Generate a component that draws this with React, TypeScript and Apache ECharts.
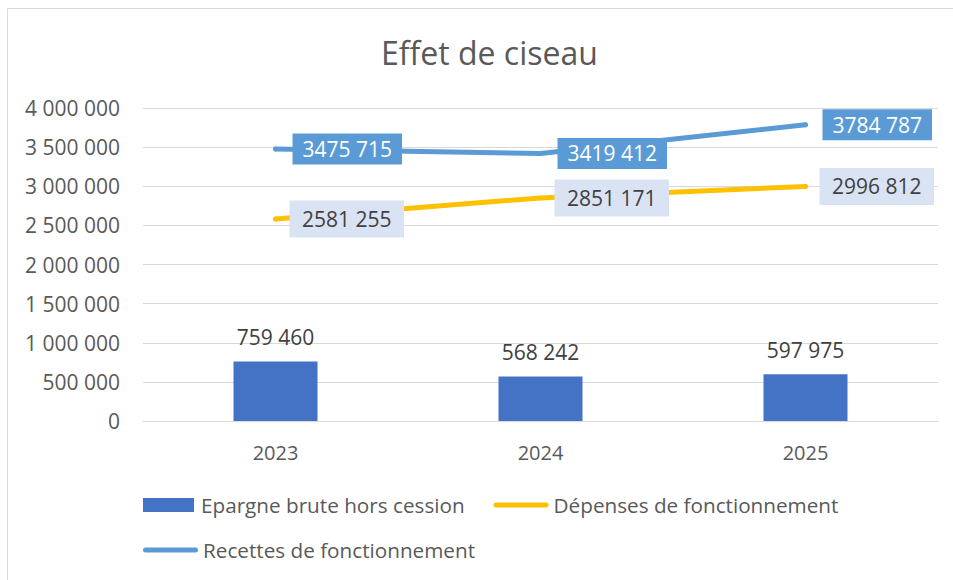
import React, { useEffect, useRef } from 'react';
import * as echarts from 'echarts';

const categories = ['2023', '2024', '2025'];
const epargne = [759460, 568242, 597975];
const depenses = [2581255, 2851171, 2996812];
const recettes = [3475715, 3419412, 3784787];
const yMin = 0;
const yMax = 4000000;
const yStep = 500000;

const seriesNames = ['Epargne brute hors cession', 'Dépenses de fonctionnement', 'Recettes de fonctionnement'];

const FONT = '"Open Sans", "Noto Sans", sans-serif';

function fmtGroup(v: number): string {
  return String(v).replace(/\B(?=(\d{3})+(?!\d))/g, ' ');
}
function fmtLast(v: number): string {
  const s = String(Math.round(v));
  return s.length > 3 ? s.slice(0, -3) + ' ' + s.slice(-3) : s;
}

const linePath = 'path://M2.5,0L52.5,0A2.5,2.5,0,0,1,52.5,5L2.5,5A2.5,2.5,0,0,1,2.5,0Z';
const rectPath = 'path://M0,0L51,0L51,14L0,14Z';

export default function App() {
  const ref = useRef<HTMLDivElement>(null);
  useEffect(() => {
    if (!ref.current) return;
    const chart = echarts.init(ref.current, undefined, { renderer: 'svg' });
    const legendText = { fontFamily: FONT, fontSize: 20.7, color: '#595959', lineHeight: 24 };
    chart.setOption({
      animation: false,
      backgroundColor: '#ffffff',
      title: {
        text: 'Effet de ciseau',
        left: 381,
        top: 36,
        padding: 0,
        textStyle: { fontFamily: FONT, fontSize: 32, fontWeight: 'normal', color: '#595959', lineHeight: 32 },
      },
      graphic: [
        {
          type: 'rect',
          shape: { x: 7.5, y: 8.5, width: 1000, height: 1000 },
          style: { fill: 'none', stroke: '#D9D9D9', lineWidth: 1 },
          silent: true,
        },
      ],
      legend: [
        {
          left: 143,
          top: 493,
          padding: 0,
          itemWidth: 55,
          itemHeight: 14,
          itemGap: 29,
          selectedMode: false,
          textStyle: legendText,
          data: [
            { name: seriesNames[0], icon: rectPath, itemStyle: { color: '#4472C4', borderWidth: 0 } },
            { name: seriesNames[1], icon: linePath, itemStyle: { color: '#FFC000', borderWidth: 0 } },
          ],
        },
        {
          left: 143,
          top: 538,
          padding: 0,
          itemWidth: 55,
          itemHeight: 14,
          itemGap: 29,
          selectedMode: false,
          textStyle: legendText,
          data: [{ name: seriesNames[2], icon: linePath, itemStyle: { color: '#5B9BD5', borderWidth: 0 } }],
        },
      ],
      grid: { left: 143, top: 108, width: 795, height: 313, containLabel: false, outerBoundsMode: 'none' },
      xAxis: {
        type: 'category',
        data: categories,
        axisLine: { lineStyle: { color: '#D9D9D9', width: 1 } },
        axisTick: { show: false },
        axisLabel: { fontFamily: FONT, fontSize: 20, color: '#595959', margin: 21 },
      },
      yAxis: {
        type: 'value',
        min: yMin,
        max: yMax,
        interval: yStep,
        axisLine: { show: false },
        axisTick: { show: false },
        splitLine: { lineStyle: { color: '#D9D9D9', width: 1 } },
        axisLabel: { fontFamily: FONT, fontSize: 21, color: '#595959', margin: 23, formatter: (v: number) => fmtGroup(v) },
      },
      series: [
        {
          name: seriesNames[0],
          type: 'bar',
          data: epargne,
          barWidth: 84,
          itemStyle: { color: '#4472C4' },
          label: {
            show: true,
            position: 'top',
            distance: 14,
            fontFamily: FONT,
            fontSize: 21,
            color: '#404040',
            formatter: (p: any) => fmtLast(p.value),
          },
        },
        {
          name: seriesNames[1],
          type: 'line',
          data: depenses,
          symbol: 'circle',
          symbolSize: 5,
          itemStyle: { color: '#FFC000' },
          lineStyle: { color: '#FFC000', width: 5, cap: 'round', join: 'round' },
          label: {
            show: true,
            position: 'right',
            distance: 11.5,
            fontFamily: FONT,
            fontSize: 21,
            lineHeight: 21,
            color: '#404040',
            backgroundColor: '#DAE3F3',
            padding: [8, 12.5],
            formatter: (p: any) => fmtLast(p.value),
          },
        },
        {
          name: seriesNames[2],
          type: 'line',
          data: recettes,
          symbol: 'circle',
          symbolSize: 5,
          itemStyle: { color: '#5B9BD5' },
          lineStyle: { color: '#5B9BD5', width: 5, cap: 'round', join: 'round' },
          label: {
            show: true,
            position: 'right',
            distance: 14.5,
            fontFamily: FONT,
            fontSize: 21,
            lineHeight: 21,
            color: '#ffffff',
            backgroundColor: '#5B9BD5',
            padding: [5, 10],
            formatter: (p: any) => fmtLast(p.value),
          },
        },
      ],
    });
    return () => chart.dispose();
  }, []);
  return (
    <div
      ref={ref}
      style={{ position: 'absolute', left: 0, top: 0, width: 953, height: 580, background: '#ffffff' }}
    />
  );
}
